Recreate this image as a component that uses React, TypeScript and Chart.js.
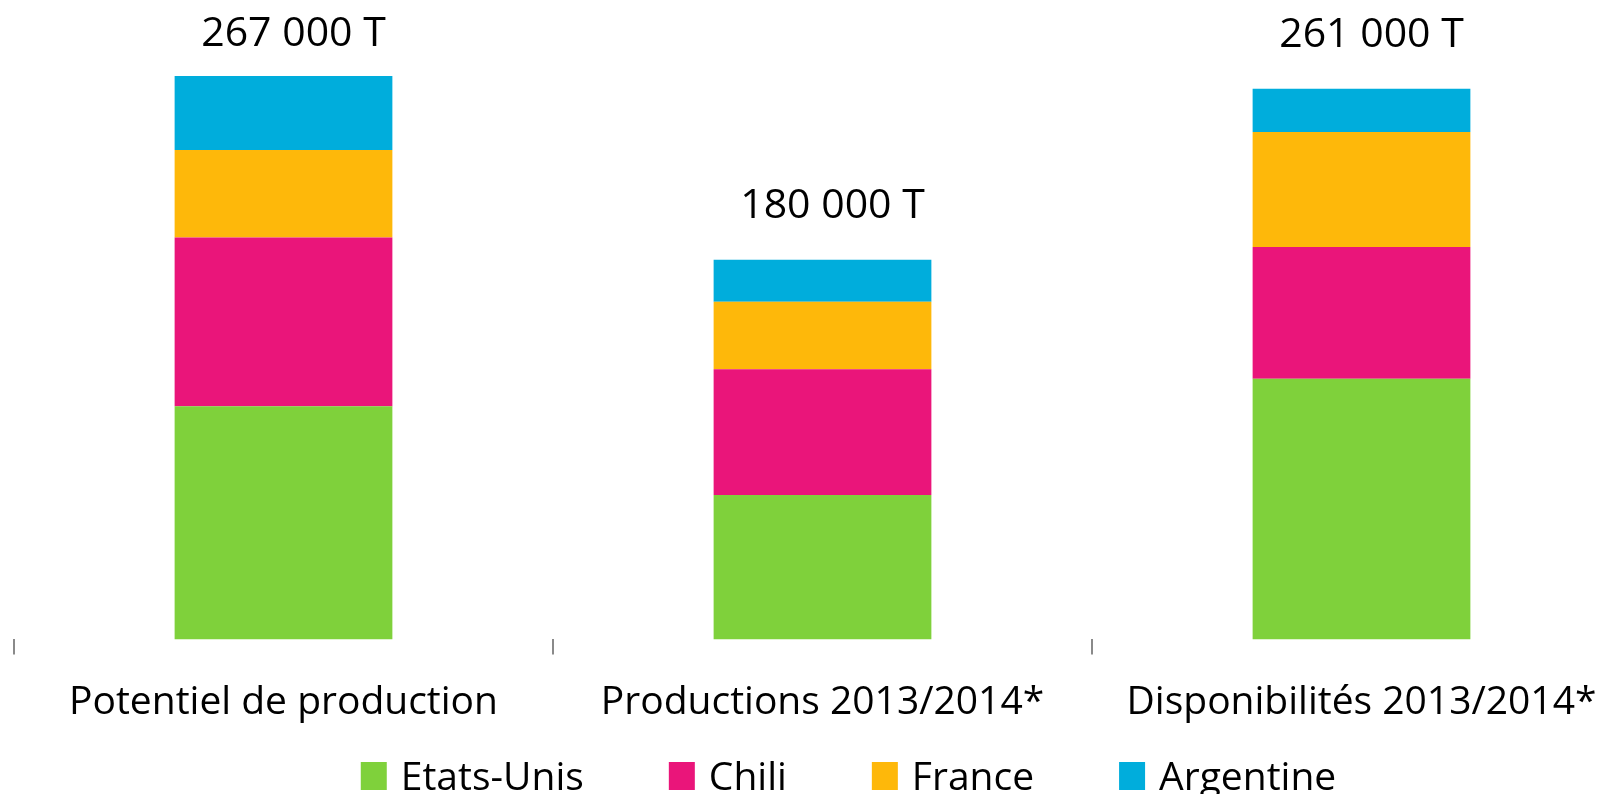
import React, { useEffect, useRef } from 'react';
import { Chart, registerables } from 'chart.js';

Chart.register(...registerables);

// ---- data (tonnes) ----
const categories = ['Potentiel de production', 'Productions 2013/2014*', 'Disponibilités 2013/2014*'];
const etatsUnis = [110500, 68500, 123500];
const chili = [80000, 59500, 62500];
const france = [41500, 32000, 54500];
const argentine = [35000, 20000, 20500];
const seriesNames = ['Etats-Unis', 'Chili', 'France', 'Argentine'];
const seriesColors = ['#7FD13B', '#EA157A', '#FEB80A', '#00ADDC'];
const yMax = 300000;

const FONT = '"Open Sans"';
const CANVAS_W = 1697;
const CANVAS_H = 794;

function formatT(v: number): string {
  return Math.round(v).toString().replace(/\B(?=(\d{3})+(?!\d))/g, ' ') + ' T';
}

const totalsPlugin = {
  id: 'totals',
  afterDatasetsDraw(chart: any) {
    const { ctx } = chart;
    const n = chart.data.datasets.length;
    const lastMeta = chart.getDatasetMeta(n - 1);
    ctx.save();
    ctx.font = `41px ${FONT}`;
    ctx.fillStyle = '#000';
    ctx.textAlign = 'center';
    ctx.textBaseline = 'alphabetic';
    chart.data.labels.forEach((_: any, i: number) => {
      const total = chart.data.datasets.reduce((s: number, d: any) => s + d.data[i], 0);
      const bar = lastMeta.data[i];
      const y = Math.max(bar.y - 42, 46);
      ctx.fillText(formatT(total), bar.x + 10, y);
    });
    ctx.restore();
  },
};

const legendPlugin = {
  id: 'customLegend',
  afterDraw(chart: any) {
    const { ctx } = chart;
    const boxW = 26;
    const boxH = 28;
    const gap = 14;
    const spacing = 85;
    const baseline = 790;
    ctx.save();
    ctx.font = `39px ${FONT}`;
    ctx.textBaseline = 'alphabetic';
    ctx.textAlign = 'left';
    const items = chart.data.datasets.map((d: any) => ({
      label: d.label,
      color: d.backgroundColor,
      w: boxW + gap + ctx.measureText(d.label).width,
    }));
    const total = items.reduce((s: number, it: any) => s + it.w, 0) + spacing * (items.length - 1);
    let x = CANVAS_W / 2 - total / 2;
    items.forEach((it: any) => {
      ctx.fillStyle = it.color;
      ctx.fillRect(x, baseline - boxH, boxW, boxH);
      ctx.fillStyle = '#000';
      ctx.fillText(it.label, x + boxW + gap, baseline);
      x += it.w + spacing;
    });
    ctx.restore();
  },
};

export default function App() {
  const canvasRef = useRef<HTMLCanvasElement | null>(null);

  useEffect(() => {
    let chart: Chart | null = null;
    let cancelled = false;
    const create = () => {
      if (cancelled || !canvasRef.current) return;
      const seriesData = [etatsUnis, chili, france, argentine];
      chart = new Chart(canvasRef.current, {
        type: 'bar',
        data: {
          labels: categories,
          datasets: seriesData.map((d, i) => ({
            label: seriesNames[i],
            data: d,
            backgroundColor: seriesColors[i],
            borderWidth: 0,
            barPercentage: 1,
            categoryPercentage: 0.404,
          })),
        },
        options: {
          responsive: false,
          animation: false,
          devicePixelRatio: 1,
          layout: { padding: { top: 6.5, left: 14, right: 66, bottom: 42.8 } },
          plugins: {
            legend: { display: false },
            tooltip: { enabled: false },
          },
          scales: {
            x: {
              stacked: true,
              grid: {
                display: true,
                drawOnChartArea: false,
                drawTicks: true,
                tickLength: 15,
                color: '#8a8a8a',
                lineWidth: 2,
                offset: true,
              },
              border: { display: false },
              ticks: {
                font: { family: FONT, size: 39 },
                color: '#000',
                padding: 25,
                maxRotation: 0,
                minRotation: 0,
                autoSkip: false,
              },
            },
            y: { stacked: true, display: false, min: 0, max: yMax },
          },
        },
        plugins: [totalsPlugin, legendPlugin],
      });
    };
    const fonts = (document as any).fonts;
    if (fonts && fonts.load) {
      Promise.all([fonts.load(`39px ${FONT}`), fonts.load(`41px ${FONT}`)]).then(create, create);
    } else {
      create();
    }
    return () => {
      cancelled = true;
      if (chart) chart.destroy();
    };
  }, []);

  return (
    <div
      style={{
        position: 'fixed',
        left: 0,
        top: 0,
        width: 1610,
        height: 794,
        overflow: 'hidden',
        background: '#fff',
      }}
    >
      <canvas
        ref={canvasRef}
        width={CANVAS_W}
        height={CANVAS_H}
        style={{ width: CANVAS_W, height: CANVAS_H, display: 'block' }}
      />
    </div>
  );
}
